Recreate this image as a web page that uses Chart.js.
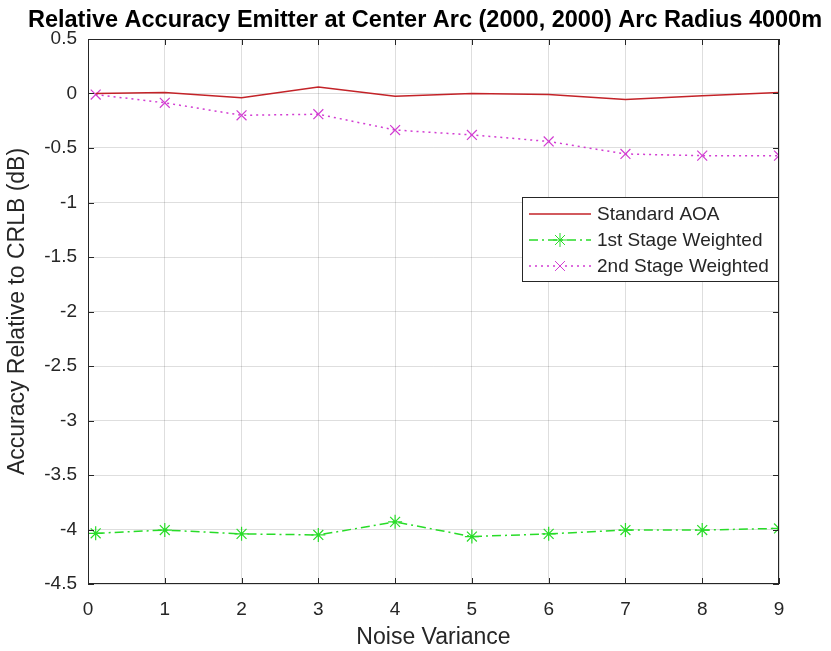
<!DOCTYPE html>
<html>
<head>
<meta charset="utf-8">
<script src="https://cdn.jsdelivr.net/npm/chart.js@4/dist/chart.umd.min.js"></script>
<style>
  html, body { margin: 0; padding: 0; background: #fff; }
  #wrap { width: 831px; height: 651px; }
</style>
</head>
<body>
<div id="wrap"><canvas id="myChart" width="831" height="651"></canvas></div>
<script>
// data
var noiseVariance = [0.1, 1, 2, 3, 4, 5, 6, 7, 8, 9];
var standardAOA = [0.0, 0.01, -0.04, 0.06, -0.025, 0.0, -0.01, -0.055, -0.02, 0.01];
var firstStage = [-4.035, -4.005, -4.04, -4.05, -3.93, -4.065, -4.04, -4.005, -4.005, -3.99];
var secondStage = [-0.01, -0.085, -0.2, -0.19, -0.335, -0.38, -0.44, -0.555, -0.57, -0.57];
var seriesNames = ['Standard AOA', '1st Stage Weighted', '2nd Stage Weighted'];
var chartTitle = 'Relative Accuracy Emitter at Center Arc (2000, 2000) Arc Radius 4000m';

var textFont = '"Liberation Sans", Arial, Helvetica, sans-serif';
var textColor = '#262626';

function toPoints(xs, ys) {
    return xs.map(function (x, i) { return { x: x, y: ys[i] }; });
}

// title drawn by hand so it can sit off-centre like matlab does
var titlePlugin = {
    id: 'plotTitle',
    afterDraw: function (chart) {
        var ctx = chart.ctx;
        ctx.save();
        ctx.font = 'bold 23.5px ' + textFont;
        ctx.fillStyle = '#000';
        ctx.textAlign = 'center';
        ctx.textBaseline = 'middle';
        ctx.fillText(chartTitle, 425, 21);
        ctx.restore();
    }
};

// box round the axes + small inward ticks
var boxPlugin = {
    id: 'axesBox',
    afterDraw: function (chart) {
        var ctx = chart.ctx, a = chart.chartArea;
        var xs = chart.scales.x, ys = chart.scales.y;
        ctx.save();
        ctx.strokeStyle = '#262626';
        ctx.lineWidth = 1;
        ctx.strokeRect(a.left + 0.5, a.top + 0.5, a.right - a.left - 1, a.bottom - a.top - 1);
        ctx.beginPath();
        xs.ticks.forEach(function (t) {
            var px = Math.round(xs.getPixelForValue(t.value)) + 0.5;
            ctx.moveTo(px, a.bottom); ctx.lineTo(px, a.bottom - 6);
            ctx.moveTo(px, a.top); ctx.lineTo(px, a.top + 6);
        });
        ys.ticks.forEach(function (t) {
            var py = Math.round(ys.getPixelForValue(t.value)) + 0.5;
            ctx.moveTo(a.left, py); ctx.lineTo(a.left + 6, py);
            ctx.moveTo(a.right, py); ctx.lineTo(a.right - 6, py);
        });
        ctx.stroke();
        ctx.restore();
    }
};

function drawMarker(ctx, style, x, y, r) {
    ctx.beginPath();
    if (style === 'star' || style === 'cross') {
        ctx.moveTo(x - r, y); ctx.lineTo(x + r, y);
        ctx.moveTo(x, y - r); ctx.lineTo(x, y + r);
    }
    if (style === 'star' || style === 'crossRot') {
        var d = r * Math.SQRT1_2;
        ctx.moveTo(x - d, y - d); ctx.lineTo(x + d, y + d);
        ctx.moveTo(x - d, y + d); ctx.lineTo(x + d, y - d);
    }
    ctx.stroke();
}

// legend inside the plot, top right
var legendPlugin = {
    id: 'insideLegend',
    afterDraw: function (chart) {
        var ctx = chart.ctx, a = chart.chartArea;
        var w = 256, h = 84;
        var x0 = a.right - w - 1, y0 = 197;
        ctx.save();
        ctx.fillStyle = '#fff';
        ctx.fillRect(x0, y0, w, h);
        ctx.strokeStyle = '#262626';
        ctx.lineWidth = 1;
        ctx.strokeRect(x0 + 0.5, y0 + 0.5, w, h);
        ctx.font = '19px ' + textFont;
        ctx.textBaseline = 'middle';
        chart.data.datasets.forEach(function (ds, i) {
            var yy = y0 + 17 + i * 26;
            ctx.strokeStyle = ds.borderColor;
            ctx.lineWidth = ds.borderWidth;
            ctx.setLineDash(ds.borderDash || []);
            ctx.beginPath();
            ctx.moveTo(x0 + 7, yy); ctx.lineTo(x0 + 69, yy);
            ctx.stroke();
            ctx.setLineDash([]);
            if (ds.pointStyle && ds.pointRadius > 0) {
                ctx.lineWidth = 1;
                drawMarker(ctx, ds.pointStyle, x0 + 38, yy, ds.pointRadius);
            }
            ctx.fillStyle = textColor;
            ctx.fillText(ds.label, x0 + 75, yy + 1);
        });
        ctx.restore();
    }
};

var ctx = document.getElementById('myChart');

var myChart = new Chart(ctx, {
    type: 'line',
    data: {
        datasets: [{
            label: seriesNames[0],
            data: toPoints(noiseVariance, standardAOA),
            borderColor: 'rgb(195, 35, 40)',
            backgroundColor: 'rgb(195, 35, 40)',
            borderWidth: 1.5,
            pointRadius: 0,
            pointStyle: false,
            fill: false
        }, {
            label: seriesNames[1],
            data: toPoints(noiseVariance, firstStage),
            borderColor: 'rgb(40, 220, 40)',
            backgroundColor: 'rgb(40, 220, 40)',
            borderWidth: 1.5,
            borderDash: [9, 4, 2, 4],
            pointStyle: 'star',
            pointRadius: 7,
            pointBorderWidth: 1.2,
            fill: false
        }, {
            label: seriesNames[2],
            data: toPoints(noiseVariance, secondStage),
            borderColor: 'rgb(210, 60, 210)',
            backgroundColor: 'rgb(210, 60, 210)',
            borderWidth: 1.5,
            borderDash: [2, 4],
            pointStyle: 'crossRot',
            pointRadius: 7,
            pointBorderWidth: 1.2,
            fill: false
        }]
    },
    options: {
        responsive: false,
        animation: false,
        layout: { padding: { left: 0, right: 52, top: 39, bottom: 0 } },
        plugins: {
            legend: { display: false },
            tooltip: { enabled: false },
            title: { display: false }
        },
        scales: {
            x: {
                type: 'linear',
                min: 0,
                max: 9,
                ticks: { stepSize: 1, color: textColor, font: { family: textFont, size: 19 }, padding: 14 },
                grid: { color: 'rgba(0,0,0,0.13)', drawTicks: false },
                border: { display: false },
                title: {
                    display: true,
                    text: 'Noise Variance',
                    color: textColor,
                    font: { family: textFont, size: 23 },
                    padding: { top: 0, bottom: 0 }
                },
                afterFit: function (scale) { scale.height = 67; }
            },
            y: {
                min: -4.5,
                max: 0.5,
                ticks: {
                    stepSize: 0.5,
                    color: textColor,
                    font: { family: textFont, size: 19 },
                    padding: 11,
                    callback: function (v) { return String(Number(v.toFixed(1))); }
                },
                grid: { color: 'rgba(0,0,0,0.13)', drawTicks: false },
                border: { display: false },
                title: {
                    display: true,
                    text: 'Accuracy Relative to CRLB (dB)',
                    color: textColor,
                    font: { family: textFont, size: 23 },
                    padding: { top: 4, bottom: 0 }
                },
                afterFit: function (scale) { scale.width = 88; }
            }
        }
    },
    plugins: [titlePlugin, boxPlugin, legendPlugin]
});
</script>
</body>
</html>
